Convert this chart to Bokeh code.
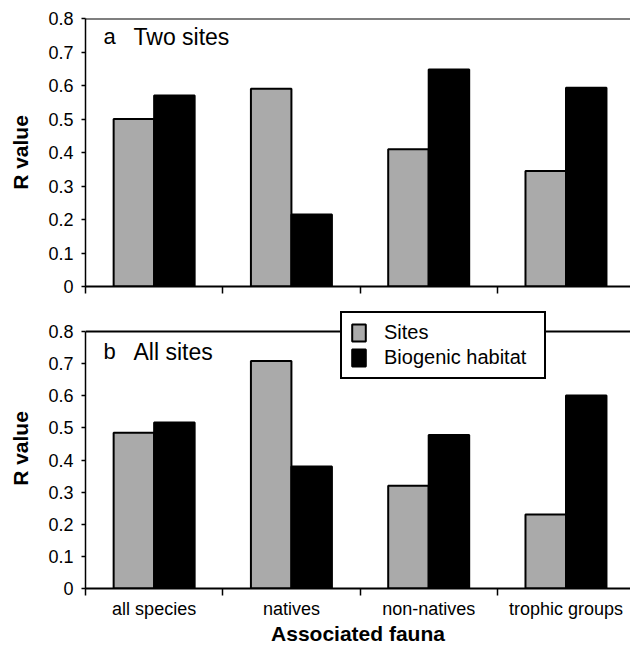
import numpy as np
from bokeh.plotting import figure
from bokeh.layouts import column
from bokeh.models import Range1d, FixedTicker, Span, Label
from bokeh.embed import file_html
from bokeh.resources import INLINE

categories = ["all species", "natives", "non-natives", "trophic groups"]
series_names = ["Sites", "Biogenic habitat"]
two_sites_sites = [0.50, 0.59, 0.41, 0.345]
two_sites_habitat = [0.57, 0.215, 0.648, 0.593]
all_sites_sites = [0.485, 0.708, 0.32, 0.23]
all_sites_habitat = [0.517, 0.38, 0.478, 0.601]
y_ticks = [0, 0.1, 0.2, 0.3, 0.4, 0.5, 0.6, 0.7, 0.8]

FONT = "Liberation Sans"
GRAY = "#aaaaaa"
BAR_W = 0.295
idx = np.arange(len(categories))
x_gray = idx + 0.5 - BAR_W / 2
x_black = idx + 0.5 + BAR_W / 2


def make_panel(height, top_border, bottom_border, y_top, sites, habitat, letter, title,
               label_drop, show_labels, legend):
    p = figure(width=630, height=height, output_backend="svg", toolbar_location=None,
               x_range=Range1d(0, 3.97), y_range=Range1d(0, y_top),
               min_border_left=85, min_border_right=0,
               min_border_top=top_border, min_border_bottom=bottom_border)
    p.outline_line_color = None
    p.grid.visible = False
    p.background_fill_color = "white"

    kw = dict(width=BAR_W, bottom=0, line_color="black", line_width=2)
    if legend:
        p.vbar(x=x_gray, top=sites, fill_color=GRAY, legend_label=series_names[0], **kw)
        p.vbar(x=x_black, top=habitat, fill_color="black", legend_label=series_names[1], **kw)
    else:
        p.vbar(x=x_gray, top=sites, fill_color=GRAY, **kw)
        p.vbar(x=x_black, top=habitat, fill_color="black", **kw)

    p.add_layout(Span(location=y_ticks[-1], dimension="width", line_color="black", line_width=2))

    # y axis
    ya = p.yaxis[0]
    ya.bounds = (y_ticks[0], y_ticks[-1])
    ya.ticker = FixedTicker(ticks=y_ticks)
    ya.major_label_overrides = {t: ("0" if t == 0 else f"{t:.1f}") for t in y_ticks}
    ya.major_label_text_font = FONT
    ya.major_label_text_font_size = "18px"
    ya.major_label_text_color = "black"
    ya.major_tick_out = 4
    ya.major_tick_in = 0
    ya.minor_tick_out = 0
    ya.minor_tick_in = 0
    ya.major_tick_line_width = 1.5
    ya.axis_line_width = 1.5
    ya.major_label_standoff = 8
    ya.axis_label = "R value"
    ya.axis_label_text_font = FONT
    ya.axis_label_text_font_size = "21px"
    ya.axis_label_text_font_style = "bold"
    ya.axis_label_text_color = "black"
    ya.axis_label_standoff = 13

    # x axis
    xa = p.xaxis[0]
    xa.axis_line_width = 2
    xa.major_tick_out = 0
    xa.major_tick_in = 0
    xa.minor_tick_out = 7
    xa.minor_tick_in = 0
    xa.minor_tick_line_width = 1.5
    xa.minor_tick_line_color = "black"
    if show_labels:
        xa.ticker = FixedTicker(ticks=list(idx + 0.5), minor_ticks=list(idx.astype(float)))
        xa.major_label_overrides = {float(i + 0.5): c for i, c in enumerate(categories)}
        xa.major_label_text_font = FONT
        xa.major_label_text_font_size = "18px"
        xa.major_label_text_color = "black"
        xa.major_label_standoff = 3
        xa.axis_label = "Associated fauna"
        xa.axis_label_text_font = FONT
        xa.axis_label_text_font_size = "21px"
        xa.axis_label_text_font_style = "bold"
        xa.axis_label_text_color = "black"
        xa.axis_label_standoff = 0
    else:
        xa.ticker = FixedTicker(ticks=[], minor_ticks=list(idx.astype(float)))
        xa.major_label_standoff = 0

    frame_h = height - top_border - bottom_border
    p.add_layout(Label(x=18, y=frame_h - label_drop, x_units="screen", y_units="screen",
                       text=letter, text_font=FONT, text_font_size="22px",
                       text_baseline="middle", text_color="black"))
    p.add_layout(Label(x=48, y=frame_h - label_drop, x_units="screen", y_units="screen",
                       text=title, text_font=FONT, text_font_size="23px",
                       text_baseline="middle", text_color="black"))
    return p


top = make_panel(308, 18, 22, 0.8, two_sites_sites, two_sites_habitat, "a", "Two sites",
                 18, False, False)
# bottom frame extends above 0.8 so that the legend can overlap the top line
bottom = make_panel(339, 0, 59, 0.8716, all_sites_sites, all_sites_habitat, "b", "All sites",
                    43, True, True)

lg = bottom.legend[0]
lg.location = (255, 209)
lg.label_text_font = FONT
lg.label_text_font_size = "20px"
lg.label_text_color = "black"
lg.glyph_width = 17
lg.glyph_height = 21
lg.label_height = 21
lg.label_width = 152
lg.label_standoff = 17
lg.padding = 8
lg.spacing = 2
lg.margin = 0
lg.border_line_color = "black"
lg.border_line_alpha = 1.0
lg.border_line_width = 2
lg.background_fill_color = "white"
lg.background_fill_alpha = 1.0

layout = column(top, bottom, spacing=0)
open("out.html", "w").write(file_html(layout, INLINE))
